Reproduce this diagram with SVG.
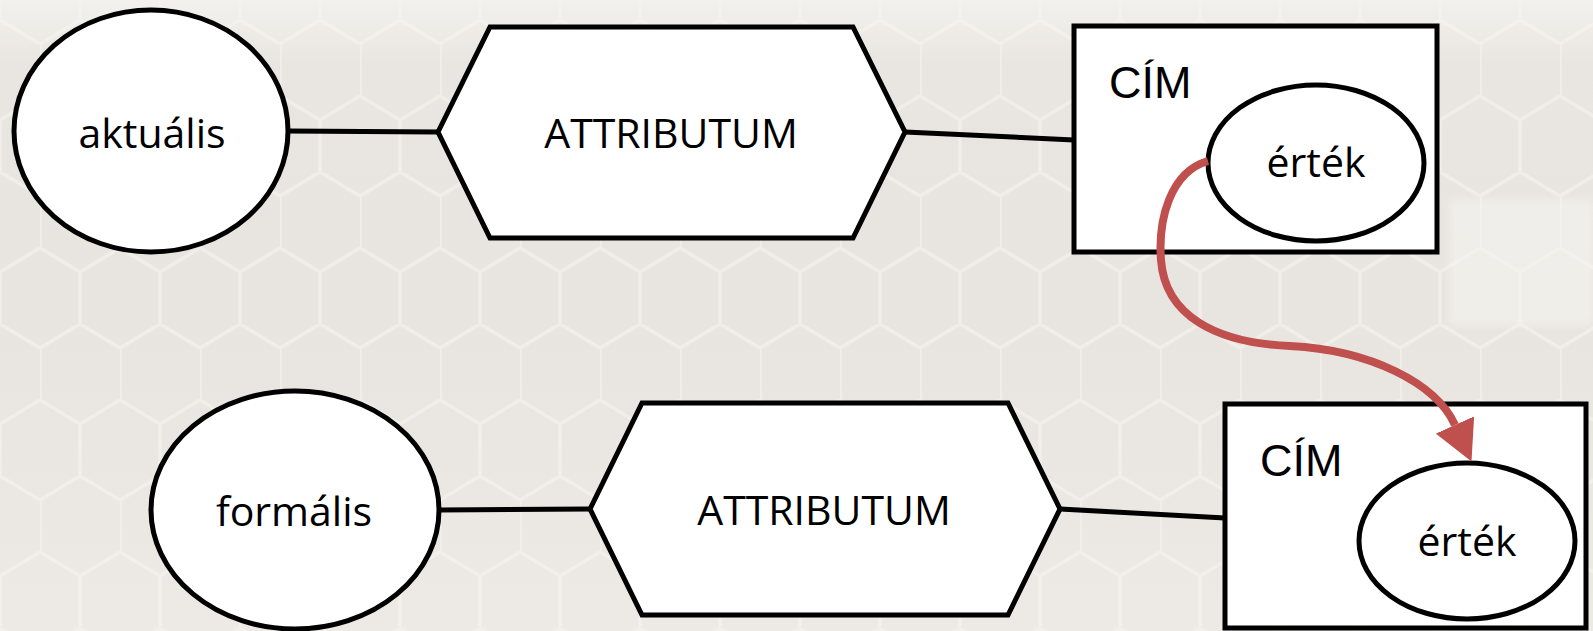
<svg xmlns="http://www.w3.org/2000/svg" width="1593" height="631" viewBox="0 0 1593 631">
  <defs>
    <style>
      .shape { fill: #ffffff; stroke: #000000; stroke-width: 5; stroke-linejoin: miter; }
      .link { stroke: #000000; stroke-width: 5; fill: none; }
      .flow { stroke: #c0504d; stroke-width: 8; fill: none; stroke-linecap: butt; }
      .lbl { font-family: "Open Sans", "Liberation Sans", sans-serif; font-size: 41px; fill: #000000; text-anchor: middle; }
      .title { font-family: "Liberation Sans", Arial, sans-serif; font-size: 45px; fill: #000000; }
    </style>
    <linearGradient id="sky" x1="0" y1="0" x2="0" y2="1">
      <stop offset="0" stop-color="#f3f1ed"/>
      <stop offset="0.1" stop-color="#e9e6e1"/>
      <stop offset="0.5" stop-color="#e8e5e0"/>
      <stop offset="1" stop-color="#ede9e4"/>
    </linearGradient>
    <pattern id="mesh" width="80" height="152" patternUnits="userSpaceOnUse" x="40" y="20">
      <path d="M0,24 V76 M0,24 L40,0 L80,24 M0,76 L40,100 L80,76 M40,100 V152" fill="none" stroke="#f7f4f0" stroke-width="3.5"/>
    </pattern>
    <filter id="soft" x="-10%" y="-10%" width="120%" height="120%">
      <feGaussianBlur stdDeviation="4"/>
    </filter>
    <marker id="redHead" markerUnits="userSpaceOnUse" viewBox="0 -21 40 42" markerWidth="40" markerHeight="42" refX="0" refY="0" orient="auto">
      <path d="M0,-21 L40,0 L0,21 z" fill="#c0504d"/>
    </marker>
  </defs>

  <!-- faded backdrop: wire mesh fence -->
  <rect x="0" y="0" width="1593" height="631" fill="url(#sky)"/>
  <rect x="0" y="0" width="1593" height="631" fill="url(#mesh)" opacity="0.6"/>
  <rect x="1450" y="200" width="143" height="125" fill="#f6f4f0" opacity="0.6" filter="url(#soft)"/>

  <!-- connectors -->
  <g id="connectors">
    <line class="link" x1="287" y1="131" x2="438" y2="132"/>
    <line class="link" x1="905" y1="132" x2="1074" y2="140"/>
    <line class="link" x1="439" y1="510" x2="590" y2="509"/>
    <line class="link" x1="1060" y1="509" x2="1225" y2="518"/>
  </g>

  <!-- top row -->
  <g id="aktualis">
    <ellipse class="shape" cx="151" cy="131" rx="137" ry="121"/>
    <text class="lbl" x="152" y="148">aktuális</text>
  </g>
  <g id="attributum-top">
    <polygon class="shape" points="438,132 490,27 853,27 905,132 853,238 490,238"/>
    <text class="lbl" x="671" y="148">ATTRIBUTUM</text>
  </g>
  <g id="cim-top">
    <rect class="shape" x="1074" y="26" width="363" height="226"/>
    <text class="title" x="1109" y="98">CÍM</text>
  </g>
  <g id="ertek-top">
    <ellipse class="shape" cx="1316" cy="163" rx="108" ry="78"/>
    <text class="lbl" x="1316" y="177">érték</text>
  </g>

  <!-- bottom row -->
  <g id="formalis">
    <ellipse class="shape" cx="295" cy="510" rx="144" ry="119"/>
    <text class="lbl" x="294" y="526">formális</text>
  </g>
  <g id="attributum-bottom">
    <polygon class="shape" points="590,509 642,403 1008,403 1060,509 1008,615 642,615"/>
    <text class="lbl" x="824" y="525">ATTRIBUTUM</text>
  </g>
  <g id="cim-bottom">
    <rect class="shape" x="1225" y="404" width="361" height="224"/>
    <text class="title" x="1260" y="476">CÍM</text>
  </g>
  <g id="ertek-bottom">
    <ellipse class="shape" cx="1467" cy="541" rx="108" ry="78"/>
    <text class="lbl" x="1467" y="556">érték</text>
  </g>

  <!-- value passed from the upper field to the lower one -->
  <g id="value-flow">
    <path class="flow" d="M1208,161 C1170,172 1158,220 1161,260 C1165,315 1215,343 1290,346 C1370,350 1436,383 1455,425" marker-end="url(#redHead)"/>
  </g>
</svg>
